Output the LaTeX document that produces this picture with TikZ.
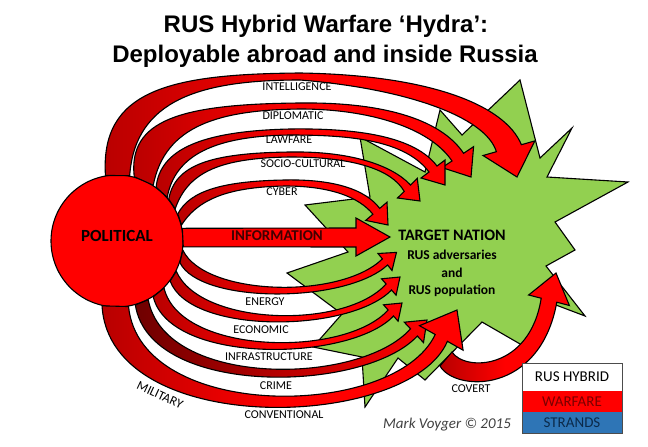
\documentclass[tikz,border=0pt]{standalone}
\usepackage{fontspec}
\setmainfont{Carlito}
\newfontfamily\headfont{Liberation Sans}
\usepackage{tikz}
\usetikzlibrary{positioning}

\definecolor{hydrared}{HTML}{FF0000}
\definecolor{hydradark}{HTML}{B80000}
\definecolor{targetgreen}{HTML}{92D050}
\definecolor{strandblue}{HTML}{2E75B6}
\definecolor{warfaretext}{HTML}{7A0000}
\definecolor{strandstext}{HTML}{0B2A4A}

\begin{document}
\begin{tikzpicture}[x=1pt, y=-1pt,
    hydra/.style={draw=black, line width=1.1pt, line join=miter,
      left color=hydradark, right color=hydrared, middle color=hydrared},
    strand/.style={font=\fontsize{12}{14}\selectfont},
    legendrow/.style={minimum width=100pt, inner sep=0pt, outer sep=0pt,
      font=\fontsize{15}{18}\selectfont}]

    % Canvas
    \fill[white] (0,0) rectangle (648,447);

    % Title
    \node[anchor=base, font=\headfont\bfseries\fontsize{24}{28}\selectfont] (title) at (326,32) {RUS Hybrid Warfare ‘Hydra’:};
    \node[anchor=base, font=\headfont\bfseries\fontsize{24}{28}\selectfont] (subtitle) at (325,62) {Deployable abroad and inside Russia};

    % Target nation star
    \draw[fill=targetgreen, line width=1.1pt, line join=miter]
        (520,80) -- (540,158) -- (572,128) -- (547,177) -- (628,182) -- (555,222)
        -- (575,250) -- (546,266) -- (585,316) -- (548,302) -- (527,348) -- (482,322)
        -- (425,380) -- (398,358) -- (365,407) -- (362,357) -- (313,347) -- (342,314)
        -- (287,273) -- (348,252) -- (305,205) -- (370,197) -- (360,137) -- (425,172)
        -- (440,110) -- (462,135) -- cycle;

    % Political circle
    \node[circle, draw, line width=1.1pt, fill=hydrared, minimum size=132pt, inner sep=0pt] (political) at (117,241) {};

    % Upper strands
    \draw[hydra] (political.100) .. controls (100,90) and (170,74) .. (300,73)
        .. controls (430,75) and (505,105) .. (521.4,144.7) -- (534.8,140.9) -- (517,177) -- (483,155.5) -- (496.4,151.7)
        .. controls (485,115) and (400,88) .. (300,80)
        .. controls (200,80) and (135,100) .. (political.79) -- cycle;
    \draw[hydra] (political.75) .. controls (128,120) and (180,104) .. (300,103)
        .. controls (380,102) and (440,118) .. (463.6,153.3) -- (473.6,146.6) -- (471,177) -- (442,167.6) -- (452,161)
        .. controls (430,128) and (370,109) .. (300,109)
        .. controls (220,110) and (165,125) .. (political.57) -- cycle;
    \draw[hydra] (political.54) .. controls (160,150) and (200,131) .. (290,129)
        .. controls (360,128) and (415,137) .. (437,166) -- (445,160) -- (445,185) -- (421,178) -- (429,172)
        .. controls (405,140) and (350,135) .. (290,135)
        .. controls (215,136) and (175,155) .. (political.41) -- cycle;
    \draw[hydra] (political.39) .. controls (175,165) and (210,153) .. (290,152)
        .. controls (350,151) and (392,165) .. (410.6,185.1) -- (417.3,178.4) -- (420,201) -- (397.5,198) -- (404.2,191.4)
        .. controls (392,170) and (355,157) .. (290,157)
        .. controls (220,158) and (188,172) .. (political.29) -- cycle;
    \draw[hydra] (political.24) .. controls (190,190) and (225,181) .. (285,180)
        .. controls (335,179) and (366,190) .. (379.7,208.4) -- (387,202.2) -- (388,225) -- (365.7,220.4) -- (372.9,214.2)
        .. controls (359,197) and (330,186) .. (285,186)
        .. controls (235,187) and (200,196) .. (political.14) -- cycle;

    % Information
    \draw[draw=black, line width=1.1pt, fill=hydrared] (political.11) -- (356,228) -- (356,218) -- (390,237)
        -- (356,256) -- (356,247) -- (political.-5) -- cycle;

    % Covert
    \draw[hydra] (440,366) .. controls (455,392) and (540,395) .. (556.8,302.2) -- (569.4,305.5) -- (556,273)
        -- (528.6,295) -- (541.2,298.2) .. controls (530,370) and (465,372) .. (452,352) -- cycle;

    % Lower strands
    \draw[hydra] (political.-19) .. controls (200,304) and (345,304) .. (387.6,265) -- (392,270.5) -- (396.5,252.4)
        -- (378,253.5) -- (382.4,258.9) .. controls (340,300) and (205,296) .. (political.-8) -- cycle;
    \draw[hydra] (political.-37) .. controls (190,335) and (350,333) .. (391.5,290) -- (396.1,295.2) -- (400,277)
        -- (381.5,278.8) -- (386.1,284) .. controls (345,330) and (200,326) .. (political.-27) -- cycle;
    \draw[hydra] (political.-57) .. controls (170,365) and (350,362) .. (393.5,316) -- (398.1,321.2) -- (402,303)
        -- (383.5,304.8) -- (388.1,310) .. controls (345,358) and (180,355) .. (political.-45) -- cycle;
    \draw[hydra, left color=hydradark!60!black, right color=hydrared, middle color=hydradark]
        (political.-74) .. controls (150,398) and (365,393) .. (417.3,336) -- (423.5,342.6) -- (427,320)
        -- (404.3,322.2) -- (410.5,328.8) .. controls (360,386) and (165,388) .. (political.-62) -- cycle;
    \draw[hydra] (political.-103) .. controls (110,440) and (410,430) .. (447.4,341.3) -- (463.1,350.2) -- (457,310)
        -- (419.5,325.7) -- (435.2,334.5) .. controls (395,420) and (140,422) .. (political.-80) -- cycle;

    % Texts on the shapes
    \node[font=\bfseries\fontsize{17}{20}\selectfont] (politicallabel) at (117,236) {POLITICAL};
    \node[font=\bfseries\fontsize{15}{18}\selectfont, text=red!25!black] (information) at (277,236) {INFORMATION};
    \node[font=\bfseries\fontsize{16}{19}\selectfont] (target) at (452,235) {TARGET NATION};
    \node[font=\bfseries\fontsize{13.5}{17.5}\selectfont, align=center, below=3pt of target] (population)
        {RUS adversaries\\and\\RUS population};

    % Strand labels
    \node[strand] (intelligence) at (297,87) {INTELLIGENCE};
    \node[strand] (diplomatic) at (293,116) {DIPLOMATIC};
    \node[strand] (lawfare) at (289,140) {LAWFARE};
    \node[strand] (socio) at (303,164) {SOCIO-CULTURAL};
    \node[strand] (cyber) at (282,192) {CYBER};
    \node[strand] (energy) at (265,302) {ENERGY};
    \node[strand] (economic) at (261,330) {ECONOMIC};
    \node[strand] (infrastructure) at (269,357) {INFRASTRUCTURE};
    \node[strand] (crime) at (276,386) {CRIME};
    \node[strand] (conventional) at (284,415) {CONVENTIONAL};
    \node[strand, font=\fontsize{13}{16}\selectfont, rotate=-25] (military) at (160,395) {MILITARY};
    \node[strand] (covert) at (471,389) {COVERT};

    % Legend
    \node[legendrow, fill=white, minimum height=28pt] (hybrid) at (572,377) {RUS HYBRID};
    \node[legendrow, fill=hydrared, text=warfaretext, minimum height=21pt, below=0pt of hybrid] (warfare) {WARFARE};
    \node[legendrow, fill=strandblue, text=strandstext, minimum height=21pt, below=0pt of warfare] (strands) {STRANDS};
    \draw[line width=1pt, black!70] (hybrid.north west) rectangle (strands.south east);

    % Credit
    \node[font=\itshape\fontsize{15}{18}\selectfont, text=black!75] (credit) at (447,425) {Mark Voyger © 2015};

\end{tikzpicture}
\end{document}
